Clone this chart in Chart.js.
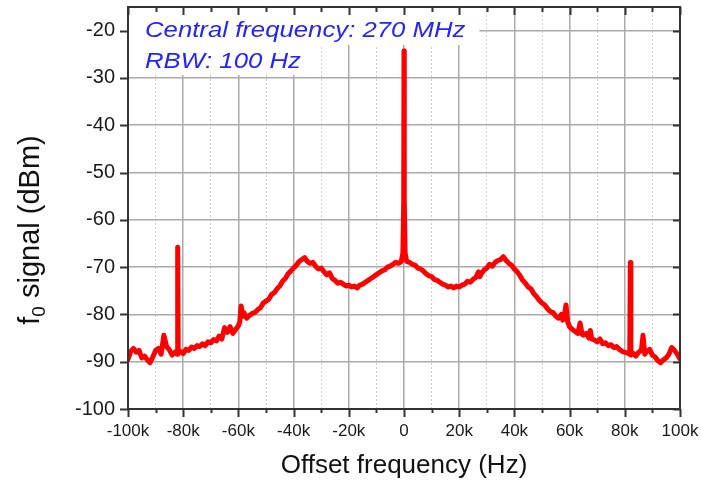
<!DOCTYPE html>
<html lang="en">
<head>
    <meta charset="UTF-8">
    <title>f0 signal spectrum</title>
    <script src="https://cdn.jsdelivr.net/npm/chart.js"></script>
    <style>
        body { margin: 0; background: #fff; }
        #wrap { width: 701px; height: 484px; }
    </style>
</head>
<body>
    <div id="wrap"><canvas id="spectrum" width="701" height="484"></canvas></div>

    <script>
        // offset frequency in kHz
        const offsetKHz = [
            -100, -99, -98, -97, -96, -95, -94, -93, -92, -91, -90, -89, -88, -87, -86, -85, -84, -83,
            -82.2, -82, -81.8, -81, -80, -79, -78, -77, -76, -75, -74, -73, -72, -71, -70, -69, -68,
            -67, -66, -65, -64, -63, -62, -61, -60, -59.5, -59, -58.5, -58, -57, -56, -55, -54, -53,
            -52, -51, -50, -49, -48, -47, -46, -45, -44, -43, -42, -41, -40, -39, -38, -37, -36, -35,
            -34, -33, -32, -31, -30, -29, -28, -27, -26, -25, -24, -23, -22, -21, -20, -19, -18, -17,
            -16, -15, -14, -13, -12, -11, -10, -9, -8, -7, -6, -5, -4, -3, -2, -1, -0.4, -0.1,
            0, 0.1, 0.4, 1, 2, 3, 4, 5, 6, 7, 8, 9, 10, 11, 12, 13, 14, 15, 16, 17, 18, 19, 20,
            21, 22, 23, 24, 25, 26, 27, 27.5, 28, 29, 30, 31, 32, 33, 34, 35, 36, 37, 38, 39, 40, 41,
            42, 43, 44, 45, 46, 47, 48, 49, 50, 51, 52, 53, 54, 55, 56, 57, 57.5, 58, 58.7, 59.3, 60,
            61, 62, 63, 63.8, 64.5, 65, 66, 67, 67.5, 68, 69, 70, 71, 72, 73, 74, 75, 76, 77, 78, 79,
            80, 81, 81.8, 82, 82.2, 83, 84, 85, 86, 86.6, 87.2, 88, 89, 90, 91, 92, 93, 94, 95, 96,
            97, 98, 99, 100
        ];
        // f0 signal in dBm
        const signalDbm = [
            -89.5, -87.8, -87.2, -88.0, -87.6, -89.2, -88.8, -89.6, -90.2, -89.0, -87.6, -87.2, -88.4, -84.4, -86.8, -87.5, -88.6, -88.0,
            -88.4, -65.8, -88.2, -87.8, -88.3, -87.4, -87.6, -86.9, -87.2, -86.6, -86.8, -86.2, -86.6, -85.8, -86.0, -85.3, -85.6,
            -84.6, -85.2, -82.8, -83.8, -82.6, -84.0, -83.2, -82.4, -81.6, -78.2, -80.4, -79.6, -80.8, -80.2, -79.8, -79.6, -79.0,
            -78.6, -77.6, -77.2, -76.8, -75.8, -75.4, -74.6, -74.0, -73.0, -72.4, -71.4, -70.8, -70.2, -69.6, -68.8, -68.4, -68.0, -68.8,
            -69.2, -69.0, -69.8, -70.4, -70.2, -71.0, -71.6, -71.2, -72.4, -72.8, -73.4, -73.2, -73.6, -74.0, -73.8, -74.2, -74.0, -74.4,
            -73.8, -73.6, -73.2, -72.8, -72.4, -72.0, -71.6, -71.2, -70.8, -70.6, -70.0, -69.8, -69.4, -69.0, -69.2, -68.8, -67.0, -56,
            -24.3, -56, -67.0, -68.8, -69.0, -69.4, -69.6, -70.2, -70.4, -70.8, -71.4, -71.8, -72.0, -72.6, -72.8, -73.2, -73.6, -73.8, -74.2, -74.0, -74.4, -74.0, -74.2,
            -73.8, -73.6, -73.0, -73.2, -72.6, -72.2, -71.0, -72.0, -71.4, -70.6, -70.2, -69.4, -69.8, -69.0, -68.6, -68.4, -67.8, -68.6, -69.2, -69.6, -70.4, -71.0,
            -71.8, -72.8, -73.4, -74.2, -74.6, -75.6, -76.2, -77.0, -77.6, -78.0, -78.8, -79.4, -79.6, -80.4, -80.8, -80.0, -81.2, -80.6, -78.0, -81.6, -82.6,
            -83.2, -83.6, -84.0, -81.8, -84.2, -84.4, -84.0, -85.0, -83.4, -85.2, -85.4, -85.8, -85.2, -86.2, -86.0, -86.6, -86.4, -87.0, -86.8, -87.4, -87.8,
            -88.0, -88.2, -88.4, -69.0, -88.6, -88.2, -88.8, -88.0, -87.6, -84.4, -88.4, -87.8, -87.4, -88.6, -89.0, -89.8, -90.2, -89.6, -89.2, -88.4,
            -87.0, -87.6, -88.4, -89.4
        ];
        const notes = ['Central frequency: 270 MHz', 'RBW: 100 Hz'];
        const xTitle = 'Offset frequency (Hz)';
        const yTitle = ['f', '0', ' signal (dBm)'];

        const FONT = '"Liberation Sans", Arial, sans-serif';
        Chart.defaults.font.family = FONT;

        const points = offsetKHz.map((k, i) => ({ x: k * 1000, y: signalDbm[i] }));

        const xLabel = v => v === 0 ? '0' : (v / 1000) + 'k';

        // the source figure is a bit wider than tall, so stretch the free text
        const STRETCH = 1.17;

        const decor = {
            id: 'decor',
            afterDatasetsDraw(chart) {
                const { ctx, chartArea: a } = chart;
                ctx.save();
                ctx.font = 'italic 22px ' + FONT;
                const boxes = [[a.top + 1, 45, 37], [45, 75, 68]];
                notes.forEach((t, i) => {
                    const [top, bot, base] = boxes[i];
                    const w = ctx.measureText(t).width * STRETCH;
                    ctx.fillStyle = '#fff';
                    ctx.fillRect(a.left + 1, top, 17 + w + 13, bot - top);
                    ctx.save();
                    ctx.translate(a.left + 17, base);
                    ctx.scale(STRETCH, 1);
                    ctx.fillStyle = '#2323ff';
                    ctx.fillText(t, 0, 0);
                    ctx.restore();
                });
                ctx.restore();
            },
            afterDraw(chart) {
                const { ctx, chartArea: a, scales: { x, y } } = chart;
                ctx.save();
                ctx.strokeStyle = '#333';
                ctx.lineWidth = 2;
                ctx.strokeRect(a.left, a.top, a.right - a.left, a.bottom - a.top);
                ctx.beginPath();
                y.ticks.forEach(t => {
                    const py = Math.round(y.getPixelForValue(t.value)) + 0.5;
                    const major = t.value % 10 === 0;
                    ctx.moveTo(a.left - (major ? 8 : 5), py);
                    ctx.lineTo(a.left, py);
                    ctx.moveTo(a.right, py);
                    ctx.lineTo(a.right - 7, py);
                });
                x.ticks.forEach(t => {
                    const px = Math.round(x.getPixelForValue(t.value)) + 0.5;
                    const major = t.value % 20000 === 0;
                    ctx.moveTo(px, a.bottom);
                    ctx.lineTo(px, a.bottom + (major ? 8 : 4));
                    ctx.moveTo(px, a.top);
                    ctx.lineTo(px, a.top + (major ? 8 : 5));
                });
                ctx.stroke();

                // axis titles
                ctx.fillStyle = '#111';
                ctx.textBaseline = 'alphabetic';
                ctx.textAlign = 'center';
                ctx.font = '25px ' + FONT;
                ctx.save();
                ctx.translate((a.left + a.right) / 2, 473);
                ctx.scale(1.04, 1);
                ctx.fillText(xTitle, 0, 0);
                ctx.restore();

                ctx.textAlign = 'left';
                ctx.translate(0, 230);
                ctx.rotate(-Math.PI / 2);
                ctx.font = '29px ' + FONT;
                const w1 = ctx.measureText(yTitle[0]).width;
                const w3 = ctx.measureText(yTitle[2]).width;
                ctx.font = '19px ' + FONT;
                const w2 = ctx.measureText(yTitle[1]).width;
                let sx = -(w1 + w2 + w3) / 2;
                ctx.font = '29px ' + FONT;
                ctx.fillText(yTitle[0], sx, 39);
                ctx.font = '19px ' + FONT;
                ctx.fillText(yTitle[1], sx + w1, 45);
                ctx.font = '29px ' + FONT;
                ctx.fillText(yTitle[2], sx + w1 + w2, 39);
                ctx.restore();
            }
        };

        new Chart(document.getElementById('spectrum'), {
            type: 'line',
            data: {
                datasets: [{
                    data: points,
                    borderColor: '#ff0000',
                    borderWidth: 5,
                    pointRadius: 0,
                    tension: 0,
                    borderJoinStyle: 'round',
                    borderCapStyle: 'round'
                }]
            },
            options: {
                responsive: false,
                animation: false,
                devicePixelRatio: 1,
                layout: { padding: { top: 7, right: 21, left: 0, bottom: 0 } },
                plugins: { legend: { display: false }, tooltip: { enabled: false } },
                scales: {
                    x: {
                        type: 'linear',
                        min: -100000,
                        max: 100000,
                        afterFit: s => {
                            s.height = 75;
                            s.paddingLeft = 0;
                            s.paddingRight = 0;
                        },
                        ticks: {
                            stepSize: 10000,
                            autoSkip: false,
                            maxRotation: 0,
                            padding: 12,
                            color: '#1a1a1a',
                            font: { size: 17 },
                            callback: v => v % 20000 === 0 ? xLabel(v) : ''
                        },
                        grid: {
                            drawTicks: false,
                            color: c => c.tick.value % 20000 === 0 ? '#aaaaaa' : '#d0d0d0',
                            lineWidth: c => c.tick.value % 20000 === 0 ? 1.5 : 1
                        },
                        border: {
                            display: false,
                            dash: c => c.tick && c.tick.value % 20000 === 0 ? [] : [2, 2]
                        }
                    },
                    y: {
                        min: -100,
                        max: -15,
                        afterFit: s => {
                            s.width = 128;
                            s.paddingTop = 0;
                            s.paddingBottom = 0;
                        },
                        ticks: {
                            stepSize: 5,
                            includeBounds: false,
                            padding: 13,
                            color: '#1a1a1a',
                            font: { size: 20 },
                            callback: v => v % 10 === 0 ? String(v) : ''
                        },
                        grid: {
                            drawTicks: false,
                            color: c => c.tick.value % 10 === 0 ? '#aaaaaa' : '#d0d0d0',
                            lineWidth: c => c.tick.value % 10 === 0 ? 1.5 : 1
                        },
                        border: {
                            display: false,
                            dash: c => c.tick && c.tick.value % 10 === 0 ? [] : [2, 2]
                        }
                    }
                }
            },
            plugins: [decor]
        });
    </script>
</body>
</html>
